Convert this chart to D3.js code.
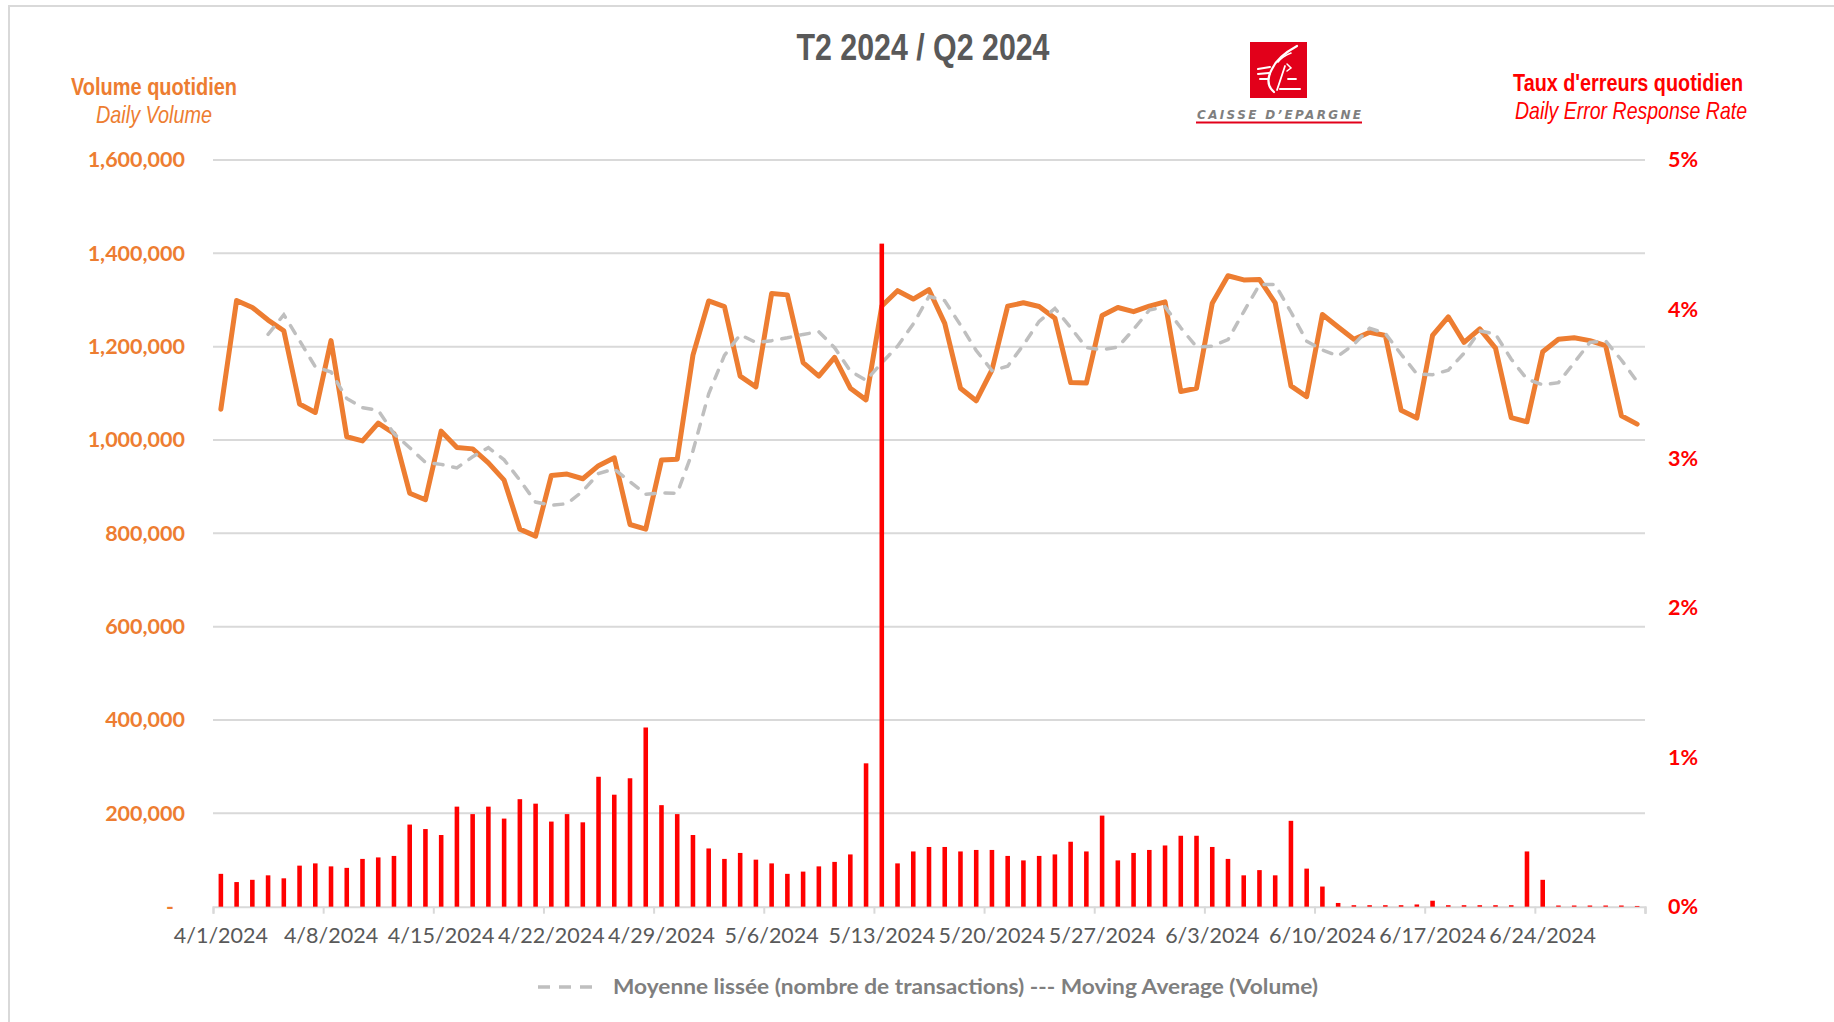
<!DOCTYPE html>
<html>
<head>
<meta charset="utf-8">
<script src="https://cdn.jsdelivr.net/npm/d3@7"></script>
<style>
  html, body { margin: 0; padding: 0; background: #fff; }
  svg { display: block; }
  .narrow { font-family: 'Liberation Sans Narrow', 'Arial Narrow', 'Liberation Sans', Arial, sans-serif; }
  .calib { font-family: Lato, 'Open Sans', sans-serif; }
</style>
</head>
<body>
<svg id="chart" width="1834" height="1022"></svg>
<script>
// daily volume (number of transactions), 4/1/2024 -> 6/30/2024
var volume = [
  1066000, 1299000, 1284000, 1257000, 1234000, 1077000, 1059000, 1213000, 1007000, 998000,
  1036000, 1014000, 886000, 872000, 1019000, 984000, 981000, 951000, 914000, 809000,
  794000, 924000, 927000, 917000, 945000, 962000, 819000, 809000, 957000, 959000,
  1182000, 1298000, 1286000, 1137000, 1114000, 1314000, 1311000, 1166000, 1137000, 1177000,
  1111000, 1086000, 1287000, 1320000, 1302000, 1322000, 1250000, 1111000, 1084000, 1150000,
  1287000, 1294000, 1286000, 1261000, 1123000, 1122000, 1267000, 1284000, 1275000, 1287000,
  1296000, 1104000, 1111000, 1293000, 1352000, 1343000, 1344000, 1294000, 1116000, 1093000,
  1269000, 1242000, 1216000, 1231000, 1224000, 1064000, 1047000, 1224000, 1264000, 1209000,
  1238000, 1197000, 1048000, 1039000, 1189000, 1216000, 1219000, 1213000, 1202000, 1052000,
  1034000
];

// smoothed average (starts on the 4th day)
var movingAvg = [
  null, null, null, 1226500, 1268500, 1213000, 1156800, 1145800, 1089000, 1069300,
  1063500, 1013800, 983500, 952000, 947800, 940300, 964000, 983800, 957500, 913800,
  867000, 860300, 863500, 890500, 928300, 937800, 910800, 883800, 886800, 886000,
  976800, 1099000, 1181300, 1225800, 1208800, 1212800, 1219000, 1226300, 1232000, 1197800,
  1147800, 1127800, 1165300, 1201000, 1248800, 1307800, 1298500, 1246300, 1191800, 1148800,
  1158000, 1203800, 1254300, 1282000, 1241000, 1198000, 1193300, 1199000, 1237000, 1278300,
  1285500, 1240500, 1199500, 1201000, 1215000, 1274800, 1333000, 1333300, 1274300, 1211800,
  1193000, 1180000, 1205000, 1239500, 1228300, 1183800, 1141500, 1139800, 1149800, 1186000,
  1233800, 1227000, 1173000, 1130500, 1118300, 1123000, 1165800, 1209300, 1212500, 1171500,
  1125300
];

// daily error response rate, in %
var errorRate = [
  0.22, 0.165, 0.18, 0.21, 0.19, 0.275, 0.29, 0.27, 0.26, 0.32,
  0.33, 0.34, 0.55, 0.52, 0.48, 0.67, 0.62, 0.67, 0.59, 0.72,
  0.69, 0.57, 0.62, 0.565, 0.87, 0.75, 0.86, 1.20, 0.68, 0.62,
  0.48, 0.39, 0.32, 0.36, 0.315, 0.29, 0.22, 0.235, 0.27, 0.30,
  0.35, 0.96, 4.44, 0.29, 0.37, 0.40, 0.40, 0.37, 0.38, 0.38,
  0.34, 0.31, 0.34, 0.35, 0.435, 0.37, 0.61, 0.31, 0.36, 0.38,
  0.41, 0.475, 0.475, 0.40, 0.32, 0.21, 0.245, 0.21, 0.575, 0.255,
  0.135, 0.025, 0.01, 0.01, 0.01, 0.01, 0.015, 0.04, 0.01, 0.01,
  0.01, 0.01, 0.01, 0.37, 0.18, 0.008, 0.008, 0.008, 0.008, 0.008,
  0.005
];

var weekLabels = ["4/1/2024", "4/8/2024", "4/15/2024", "4/22/2024", "4/29/2024", "5/6/2024",
  "5/13/2024", "5/20/2024", "5/27/2024", "6/3/2024", "6/10/2024", "6/17/2024", "6/24/2024"];
var volumeTicks = [0, 200000, 400000, 600000, 800000, 1000000, 1200000, 1400000, 1600000];
var rateTicks = [0, 1, 2, 3, 4, 5];

var days = d3.timeDay.range(new Date(2024, 3, 1), new Date(2024, 6, 1));
var fmtDay = d3.timeFormat("%-m/%-d/%Y");
var dayKeys = days.map(fmtDay);

var orange = "#ED7D31";
var red = "#FF0000";
var grid = "#d9d9d9";

var plotL = 213, plotR = 1645, plotT = 160, plotB = 906.7;

var svg = d3.select("#chart");

// frame
svg.append("rect")
  .attr("x", 9).attr("y", 6).attr("width", 1860).attr("height", 1060)
  .attr("fill", "none").attr("stroke", grid).attr("stroke-width", 2);

var x = d3.scaleBand().domain(dayKeys).range([plotL, plotR])
  .paddingInner(0.71).paddingOuter(0.355);
var xEdge = d3.scaleLinear().domain([0, dayKeys.length]).range([plotL, plotR]);
var yVol = d3.scaleLinear().domain([0, 1600000]).range([plotB, plotT]);
var yRate = d3.scaleLinear().domain([0, 5]).range([plotB, plotT]);

function cx(i) { return x(dayKeys[i]) + x.bandwidth() / 2; }

// gridlines
svg.append("g").selectAll("line")
  .data(volumeTicks.slice(1))
  .enter().append("line")
  .attr("x1", plotL).attr("x2", plotR)
  .attr("y1", function(d) { return yVol(d); })
  .attr("y2", function(d) { return yVol(d); })
  .attr("stroke", grid).attr("stroke-width", 2);

// left axis
var axL = svg.append("g").attr("transform", "translate(" + plotL + ",0)")
  .call(d3.axisLeft(yVol).tickValues(volumeTicks).tickSize(0).tickPadding(28)
    .tickFormat(function(d) { return d === 0 ? "" : d3.format(",")(d); }));
axL.select(".domain").remove();
axL.selectAll("text").attr("class", "calib").attr("fill", orange)
  .attr("font-size", 21.5).attr("font-weight", "bold");
svg.append("text").attr("class", "calib").attr("x", 170).attr("y", yVol(0) + 7)
  .attr("text-anchor", "middle").attr("fill", orange).attr("font-size", 21)
  .attr("font-weight", "bold").text("-");

// right axis
var axR = svg.append("g").attr("transform", "translate(" + plotR + ",0)")
  .call(d3.axisRight(yRate).tickValues(rateTicks).tickSize(0).tickPadding(23)
    .tickFormat(function(d) { return d + "%"; }));
axR.select(".domain").remove();
axR.selectAll("text").attr("class", "calib").attr("fill", red)
  .attr("font-size", 21.5).attr("font-weight", "bold");

// bottom axis: ticks on week boundaries, labels centred on the day
var axT = svg.append("g").attr("transform", "translate(0," + plotB + ")")
  .call(d3.axisBottom(xEdge).tickValues(d3.range(0, dayKeys.length + 1, 7).concat([dayKeys.length]))
    .tickSize(7).tickFormat(""));
axT.select(".domain").attr("stroke", grid).attr("stroke-width", 2);
axT.selectAll(".tick line").attr("stroke", grid).attr("stroke-width", 2);

var axB = svg.append("g").attr("transform", "translate(0," + plotB + ")")
  .call(d3.axisBottom(x).tickValues(weekLabels).tickSize(0).tickPadding(21));
axB.select(".domain").remove();
axB.selectAll("text").attr("class", "calib").attr("fill", "#595959").attr("font-size", 21.5);

// daily volume line
svg.append("path")
  .datum(volume)
  .attr("fill", "none").attr("stroke", orange).attr("stroke-width", 5)
  .attr("stroke-linejoin", "round").attr("stroke-linecap", "round")
  .attr("d", d3.line().x(function(d, i) { return cx(i); }).y(function(d) { return yVol(d); }));

// moving average
svg.append("path")
  .datum(movingAvg)
  .attr("fill", "none").attr("stroke", "#bfbfbf").attr("stroke-width", 3.5)
  .attr("stroke-dasharray", "9,10").attr("stroke-linecap", "round")
  .attr("d", d3.line().defined(function(d) { return d !== null; })
    .x(function(d, i) { return cx(i); }).y(function(d) { return yVol(d); }));

// error rate bars
svg.append("g").selectAll("rect")
  .data(errorRate)
  .enter().append("rect")
  .attr("x", function(d, i) { return x(dayKeys[i]); })
  .attr("width", x.bandwidth())
  .attr("y", function(d) { return yRate(d); })
  .attr("height", function(d) { return plotB - yRate(d); })
  .attr("fill", red);

// titles
svg.append("text").attr("class", "narrow").attr("x", 923).attr("y", 60)
  .attr("text-anchor", "middle").attr("font-size", 37).attr("font-weight", "bold")
  .attr("fill", "#595959").attr("textLength", 253).attr("lengthAdjust", "spacingAndGlyphs")
  .text("T2 2024 / Q2 2024");

svg.append("text").attr("class", "narrow").attr("x", 154).attr("y", 95)
  .attr("text-anchor", "middle").attr("font-size", 24).attr("font-weight", "bold")
  .attr("fill", orange).attr("textLength", 166).attr("lengthAdjust", "spacingAndGlyphs")
  .text("Volume quotidien");
svg.append("text").attr("class", "narrow").attr("x", 154).attr("y", 123)
  .attr("text-anchor", "middle").attr("font-size", 24).attr("font-style", "italic")
  .attr("fill", orange).attr("textLength", 116).attr("lengthAdjust", "spacingAndGlyphs")
  .text("Daily Volume");

svg.append("text").attr("class", "narrow").attr("x", 1628).attr("y", 91)
  .attr("text-anchor", "middle").attr("font-size", 24).attr("font-weight", "bold")
  .attr("fill", red).attr("textLength", 230).attr("lengthAdjust", "spacingAndGlyphs")
  .text("Taux d'erreurs quotidien");
svg.append("text").attr("class", "narrow").attr("x", 1631).attr("y", 119)
  .attr("text-anchor", "middle").attr("font-size", 24).attr("font-style", "italic")
  .attr("fill", red).attr("textLength", 232).attr("lengthAdjust", "spacingAndGlyphs")
  .text("Daily Error Response Rate");

// logo
var logo = svg.append("g").attr("transform", "translate(1250,42)");
logo.append("rect").attr("width", 57).attr("height", 56).attr("fill", "#E2001A");
var w = { fill: "none", stroke: "#fff", "stroke-width": 2.2, "stroke-linecap": "round" };
function wpath(d, sw) {
  var p = logo.append("path").attr("d", d);
  Object.keys(w).forEach(function(k) { p.attr(k, w[k]); });
  if (sw) p.attr("stroke-width", sw);
}
wpath("M47,4 C36,10 26,18 22,27 C17,36 17,44 24,50");
wpath("M41,11 C36,13 31,16 28,20", 1.6);
wpath("M8,27 L20,25", 2);
wpath("M8,32 L19,31", 2);
wpath("M10,37 L18,37", 2);
wpath("M27,48 L35,24", 1.8);
wpath("M37,22 L41,26 L37,29", 1.5);
wpath("M38,37 L46,37", 1.8);
wpath("M30,47 L50,47", 2);
svg.append("text").attr("x", 1279).attr("y", 119).attr("text-anchor", "middle")
  .attr("font-family", "'DejaVu Sans', sans-serif").attr("font-size", 12)
  .attr("font-weight", "bold").attr("font-style", "italic").attr("fill", "#7f7f7f")
  .attr("textLength", 164).attr("lengthAdjust", "spacing")
  .text("CAISSE D\u2019EPARGNE");
svg.append("line").attr("x1", 1196).attr("x2", 1362).attr("y1", 122.5).attr("y2", 122.5)
  .attr("stroke", "#E2001A").attr("stroke-width", 2);

// legend
svg.append("line").attr("x1", 538).attr("x2", 598).attr("y1", 987).attr("y2", 987)
  .attr("stroke", "#bfbfbf").attr("stroke-width", 3.5).attr("stroke-dasharray", "12,9");
svg.append("text").attr("class", "calib").attr("x", 613).attr("y", 994)
  .attr("font-size", 21).attr("font-weight", "bold").attr("fill", "#7f7f7f")
  .attr("textLength", 705).attr("lengthAdjust", "spacingAndGlyphs")
  .text("Moyenne liss\u00e9e (nombre de transactions) --- Moving Average (Volume)");
</script>
</body>
</html>
